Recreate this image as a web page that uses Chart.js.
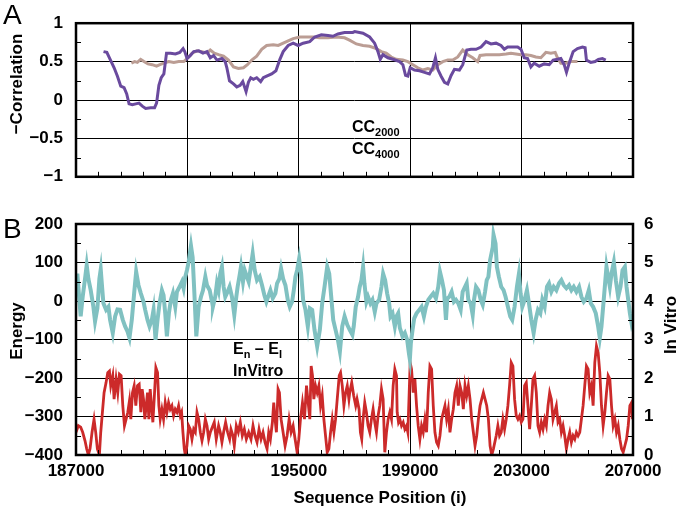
<!DOCTYPE html>
<html><head><meta charset="utf-8">
<script src="https://cdn.jsdelivr.net/npm/chart.js@4/dist/chart.umd.min.js"></script>
<style>
html,body{margin:0;padding:0;background:#fff;}
#wrap{position:relative;width:680px;height:511px;overflow:hidden;font-family:"Liberation Sans",Arial,sans-serif;color:#000;}
.cv{position:absolute;left:0;}
.t{position:absolute;white-space:nowrap;font-weight:bold;}
.leg{position:absolute;white-space:nowrap;font-weight:bold;font-size:16px;line-height:16px;}
.leg sub{font-size:11px;vertical-align:-4px;line-height:0;}
.panel{position:absolute;font-size:28px;line-height:28px;}
.rot{transform:rotate(-90deg);transform-origin:50% 50%;text-align:center;}
</style></head>
<body><div id="wrap">
<canvas id="ca" class="cv" width="680" height="200" style="top:0"></canvas>
<canvas id="cb" class="cv" width="680" height="311" style="top:200px"></canvas>
<div class="panel" style="left:3px;top:1px">A</div>
<div class="panel" style="left:3px;top:215px">B</div>
<div class="t rot" style="font-size:17px;width:140px;left:-53px;top:74px;line-height:20px">−Correlation</div>
<div class="t rot" style="font-size:17px;width:100px;left:-33px;top:321px;line-height:20px">Energy</div>
<div class="t rot" style="font-size:17px;width:100px;left:621px;top:315px;line-height:20px">In Vitro</div>
<div class="t" style="font-size:17px;width:300px;left:230px;top:488px;line-height:20px;text-align:center">Sequence Position (i)</div>
<div class="leg" style="left:352px;top:119px">CC<sub>2000</sub></div>
<div class="leg" style="left:352px;top:141px">CC<sub>4000</sub></div>
<div class="leg" style="left:233px;top:341px">E<sub>n</sub> – E<sub>I</sub></div>
<div class="leg" style="left:233px;top:363px">InVitro</div>
</div>
<script>
// ---------- axis ticks ----------
const xTicks = [187000, 191000, 195000, 199000, 203000, 207000];
const corrTicks = [-1, -0.5, 0, 0.5, 1];
const energyTicks = [-400, -300, -200, -100, 0, 100, 200];
const vitroTicks = [0, 1, 2, 3, 4, 5, 6];

// ---------- CC2000 (purple) ----------
const cc2000X = [187988,188107,188226,188369,188488,188607,188726,188821,188905,189024,189143,189262,189381,189500,189679,189821,189893,189976,190060,190155,190250,190393,190571,190726,190845,190905,190988,191107,191226,191405,191560,191702,191821,191940,192060,192238,192357,192417,192512,192655,192774,192893,192988,193107,193190,193274,193369,193488,193631,193726,193845,194024,194179,194321,194440,194619,194798,194976,195155,195393,195571,195810,196048,196226,196405,196643,196940,
197007,197305,197543,197722,197842,197925,198021,198200,198379,198618,198737,198833,198916,199000,199155,199334,199513,199692,199812,199907,199991,200110,200230,200349,200469,200588,200767,200887,201030,201185,201364,201543,201722,201901,202081,202260,202379,202499,202678,202857,202976,203095,203215,203334,203454,203633,203812,203991,204134,204289,204409,204528,204612,204708,204851,205006,205185,205281,205328,205484,205639,205758,205902,206021];
const cc2000Y = [0.63,0.62,0.53,0.42,0.31,0.18,0.16,0.08,-0.05,-0.06,-0.05,-0.04,-0.08,-0.11,-0.10,-0.10,-0.04,0.19,0.29,0.34,0.61,0.61,0.60,0.62,0.67,0.63,0.54,0.58,0.63,0.64,0.61,0.63,0.55,0.58,0.52,0.54,0.50,0.42,0.25,0.21,0.17,0.19,0.24,0.11,0.23,0.29,0.27,0.29,0.24,0.29,0.31,0.34,0.38,0.53,0.63,0.71,0.74,0.71,0.74,0.76,0.82,0.85,0.84,0.83,0.86,0.88,0.88,
0.89,0.87,0.82,0.74,0.63,0.53,0.59,0.55,0.53,0.50,0.46,0.32,0.31,0.42,0.39,0.38,0.36,0.34,0.42,0.55,0.40,0.31,0.23,0.21,0.32,0.40,0.39,0.46,0.65,0.66,0.66,0.69,0.76,0.73,0.74,0.71,0.66,0.69,0.69,0.69,0.66,0.55,0.54,0.43,0.48,0.44,0.47,0.46,0.52,0.53,0.54,0.46,0.36,0.48,0.63,0.67,0.69,0.68,0.52,0.49,0.50,0.53,0.54,0.52];

// ---------- CC4000 (tan) ----------
const cc4000X = [188988,189107,189202,189321,189440,189583,189738,189893,190012,190155,190333,190512,190690,190869,191048,191167,191345,191524,191702,191821,191964,192119,192298,192476,192655,192833,193012,193155,193310,193488,193667,193845,194083,194262,194440,194619,194798,195036,195274,195512,195750,196048,196345,196643,196821,
197066,197305,197543,197782,197961,198140,198319,198498,198737,198916,199095,199275,199454,199633,199812,199991,200170,200349,200528,200708,200887,201066,201245,201424,201507,201722,201961,202200,202439,202618,202797,202976,203155,203334,203513,203692,203872,204051,204206,204289,204409,204588,204767,205006];
const cc4000Y = [0.48,0.50,0.49,0.53,0.50,0.47,0.46,0.44,0.46,0.48,0.50,0.49,0.50,0.50,0.56,0.61,0.64,0.63,0.61,0.65,0.61,0.59,0.57,0.52,0.43,0.41,0.42,0.46,0.52,0.57,0.66,0.71,0.72,0.71,0.74,0.77,0.80,0.82,0.82,0.82,0.81,0.81,0.82,0.81,0.78,
0.73,0.71,0.70,0.67,0.63,0.61,0.56,0.53,0.52,0.50,0.46,0.42,0.39,0.41,0.39,0.46,0.50,0.52,0.52,0.56,0.65,0.59,0.55,0.50,0.58,0.59,0.59,0.59,0.60,0.61,0.60,0.59,0.59,0.58,0.56,0.55,0.62,0.61,0.62,0.55,0.48,0.48,0.50,0.50];

// ---------- En - EI (teal, left axis) ----------
const energyX = [187000,187048,187120,187168,187240,187324,187384,187444,187528,187624,187684,187768,187840,187888,187936,187984,188080,188164,188224,188320,188404,188488,188584,188680,188764,188848,188920,189004,189088,189160,189244,189328,189424,189484,189568,189640,189724,189784,189856,189928,190000,190084,190144,190204,190264,190336,190408,190480,190564,190624,190720,190804,190864,190924,190984,191044,191128,191188,191248,191320,191404,191488,191560,191644,191704,191800,191884,
191916,192000,192060,192120,192180,192240,192300,192360,192444,192516,192600,192684,192756,192804,192876,192924,192996,193056,193116,193200,193260,193344,193416,193500,193596,193680,193764,193836,193896,193980,194064,194160,194220,194304,194364,194436,194520,194604,194676,194760,194820,194880,194940,195012,195084,195156,195240,195324,195396,195480,195564,195660,195756,195840,195924,196020,196092,196164,196236,196320,196404,196476,196560,196644,196740,
196828,196924,196972,197044,197128,197188,197248,197308,197356,197428,197488,197572,197644,197728,197788,197884,197968,198028,198100,198172,198244,198292,198364,198448,198508,198568,198628,198724,198808,198892,198952,198988,199024,199084,199144,199228,199324,199408,199492,199564,199648,199732,199828,199924,200008,200068,200140,200212,200284,200332,200404,200488,200572,200644,200728,200812,200884,200968,201028,201088,201172,201244,201292,201364,201448,201532,201604,201688,201748,201808,201868,201964,
201992,202064,202112,202184,202268,202352,202424,202508,202592,202664,202748,202832,202904,202964,203024,203108,203192,203264,203348,203432,203504,203588,203672,203744,203828,203912,203984,204068,204152,204248,204344,204428,204512,204608,204704,204788,204872,204968,205064,205148,205232,205328,205412,205484,205568,205664,205748,205808,205868,205928,205988,206048,206108,206168,206228,206312,206384,206468,206552,206624,206708,206768,206828,206888,206948,206984];
const energyY = [37,71,3,-40,11,58,93,58,28,-15,-53,-19,58,82,37,-6,-23,-15,-49,-83,-40,-22,-23,-49,-66,-79,-96,-49,20,76,41,20,-2,-23,-49,-66,-49,-23,-101,-49,-6,28,15,-32,-92,-32,3,20,-15,24,37,50,33,63,80,101,144,114,24,-92,-15,11,28,63,41,28,-2,
-15,11,46,28,71,89,37,11,24,37,11,-36,11,37,67,89,50,80,67,50,80,123,80,54,63,41,15,-2,11,28,7,20,46,58,84,58,41,3,-15,-2,28,63,80,110,71,3,-23,-66,-19,-23,-75,-118,-75,-6,37,89,71,11,-49,-75,-101,-131,-66,-40,-62,
-75,-88,-66,-15,11,37,54,89,46,-2,11,-6,3,-28,-6,3,37,71,54,20,-6,-40,-32,-66,-40,-32,-70,-92,-83,-101,-135,-152,-109,-75,-45,-32,-23,-15,-40,-15,3,11,20,7,37,76,54,28,-49,7,11,24,-2,3,-6,-23,24,37,46,3,-6,-36,3,37,28,3,-10,24,54,63,106,140,
172,149,89,63,37,28,11,-15,-40,-49,-15,37,71,20,-15,3,28,-6,-49,-83,-49,-23,-32,3,-15,37,46,24,37,28,46,54,41,33,41,28,37,24,37,11,-2,7,28,-6,-15,-32,-66,-96,-66,-15,37,89,63,37,71,101,54,11,37,80,89,37,3,-32,-58,-49];

// ---------- InVitro (red, right axis) ----------
const vitroX = [187000,187084,187168,187240,187324,187384,187444,187504,187576,187648,187708,187768,187840,187888,187948,188008,188080,188140,188200,188248,188320,188368,188440,188500,188560,188620,188680,188740,188800,188860,188920,188968,189028,189088,189148,189208,189268,189328,189376,189424,189472,189520,189568,189616,189664,189712,189760,189808,189868,189928,189976,190024,190084,190144,190204,190264,190324,190384,190444,190504,190564,190624,190684,190744,190792,190840,190888,190924,190984,191044,191104,191164,191224,191284,191344,191404,191464,191524,191584,191644,191704,191764,191824,
191964,192036,192120,192180,192240,192300,192372,192444,192516,192564,192636,192684,192756,192828,192900,192972,193044,193116,193200,193284,193356,193428,193500,193572,193644,193716,193788,193860,193920,193980,194052,194100,194148,194196,194256,194304,194364,194436,194508,194580,194652,194724,194796,194868,194940,195000,195060,195132,195204,195276,195324,195396,195444,195492,195540,195600,195660,195720,195780,195840,195900,195960,196020,196080,196140,196200,196260,196320,196380,196452,196500,196560,196620,196680,196740,196800,
196828,196900,196972,197044,197092,197164,197212,197260,197308,197368,197428,197488,197548,197608,197668,197728,197788,197848,197908,197968,198028,198088,198148,198208,198268,198328,198388,198448,198508,198532,198580,198628,198688,198748,198808,198868,198916,198964,199000,199048,199108,199168,199228,199288,199348,199408,199468,199528,199588,199648,199708,199768,199828,199888,199948,200008,200068,200128,200188,200248,200308,200368,200428,200488,200548,200608,200668,200728,200788,200848,200908,200968,201028,201088,201148,201208,201268,201328,201388,201448,201508,201568,201628,201688,201748,201808,201868,201928,201988,
202088,202148,202208,202268,202328,202388,202448,202508,202568,202628,202688,202748,202808,202868,202928,202988,203048,203108,203168,203228,203288,203348,203408,203468,203528,203588,203648,203708,203768,203828,203888,203948,204008,204068,204128,204188,204248,204308,204368,204428,204488,204548,204608,204668,204728,204788,204848,204908,204968,205028,205088,205148,205208,205268,205328,205388,205448,205508,205568,205628,205688,205748,205808,205868,205928,205988,206048,206108,206168,206228,206288,206348,206408,206468,206528,206588,206648,206708,206768,206828,206888,206948,206984];
const vitroY = [0.59,0.76,0.72,0.59,0.37,0.16,0,0.16,0.59,0.93,0.59,0.16,0,0.59,1.11,1.62,1.88,2.14,2.18,1.80,2.06,1.45,1.97,1.62,2.10,2.06,1.28,0.76,0.93,1.11,1.41,0.93,1.62,1.80,1.28,1.80,1.84,1.11,1.71,1.45,0.93,1.28,1.62,0.93,1.71,1.28,0.85,1.45,2.27,2.14,1.28,0.93,1.19,0.93,1.36,1.11,1.36,1.19,1.28,1.02,1.19,1.11,1.28,1.02,1.11,0.59,0.16,0,0.24,0.76,0.67,0.41,0.67,0.59,1.11,0.93,0.59,0.37,0.59,0.93,0.76,0.41,0.59,
0.85,0.41,0.76,0.59,0.33,0.59,0.85,0.59,0.41,0.67,0.50,0.24,0.76,0.59,0.85,0.50,0.67,0.41,0.59,0.41,0.76,0.50,0.33,0.67,0.41,0.59,0.33,0.16,0.59,0.41,0.85,1.36,0.93,0.59,1.71,1.62,0.93,0.59,0.24,0.50,0.93,0.59,0.76,0.41,0.07,0.41,0.93,1.36,0.93,1.80,1.45,0.93,2.31,2.06,1.45,1.80,1.62,1.80,1.28,1.54,0.93,0.50,0.07,0.16,0.59,0.93,0.59,0.93,1.45,2.06,2.14,1.80,1.28,1.62,1.80,1.45,
1.62,1.88,1.54,1.28,1.45,1.19,0.59,0.41,0.93,1.36,1.11,0.76,0.59,0.93,1.19,0.85,0.59,1.02,1.28,1.71,1.45,0.07,0.59,0.93,1.11,0.93,1.80,2.23,2.06,1.11,0.85,0.93,0.76,0.85,0.67,0.76,0.59,1.62,2.40,2.23,1.62,1.97,1.28,0.76,0.41,0.76,0.59,0.93,0.59,1.62,2.31,2.23,1.28,0.59,0.33,0.24,0.50,0.93,1.11,1.28,0.93,1.19,0.59,0.93,1.19,1.62,1.80,1.28,1.80,1.62,1.19,1.80,1.54,1.80,1.45,0.93,0.59,0.24,0.50,0.93,1.28,1.45,1.62,1.45,1.28,0.93,0.24,0,0.16,
0.50,0.76,0.50,0.59,0.93,0.67,0.93,1.28,1.80,2.40,2.31,1.45,1.02,0.93,1.02,0.85,0.93,1.80,1.88,1.28,0.67,1.28,1.97,2.06,1.62,0.76,0.59,0.85,0.67,0.93,0.76,1.28,1.62,1.45,0.93,1.11,1.28,0.85,0.93,0.59,0.76,0.50,0.16,0.41,0.59,0.33,0.50,0.41,0.59,0.50,0.59,0.93,1.28,1.80,2.31,2.23,1.62,1.80,1.28,2.40,2.83,2.66,2.14,1.28,0.76,1.11,1.62,2.06,1.97,1.28,0.76,0.93,0.59,0.76,0.41,0.16,0.07,0.24,0.41,0.76,1.28,1.36,0.93];

function pts(xs, ys){ return xs.map((x,i)=>({x:x, y:ys[i]})); }
const fmt = v => (v < 0 ? '\u2212' + Math.abs(v) : String(v));

Chart.defaults.font.family = '"Liberation Sans", Arial, Helvetica, sans-serif';
Chart.defaults.color = '#000';

// frame + inward minor ticks
const framePlugin = {
  id: 'frame',
  afterDraw(chart, args, o){
    const ctx = chart.ctx, a = chart.chartArea;
    ctx.save();
    ctx.strokeStyle = '#000';
    ctx.lineWidth = 1;
    ctx.beginPath();
    const xs = chart.scales.x;
    for (let v = xs.min; v <= xs.max; v += o.xMinor) {
      if (Math.abs((v - xs.min) % o.xMajor) < 1e-6) continue;
      const p = Math.round(xs.getPixelForValue(v)) + 0.5;
      ctx.moveTo(p, a.bottom); ctx.lineTo(p, a.bottom - 5);
    }
    const yl = chart.scales.y;
    for (let v = yl.min + o.yMinor; v < yl.max; v += 2*o.yMinor) {
      const p = Math.round(yl.getPixelForValue(v)) + 0.5;
      ctx.moveTo(a.left, p); ctx.lineTo(a.left + 5, p);
      if (!o.y2) { ctx.moveTo(a.right, p); ctx.lineTo(a.right - 5, p); }
    }
    if (o.y2) {
      const yr = chart.scales.y2;
      for (let v = yr.min + o.y2Minor; v < yr.max; v += 2*o.y2Minor) {
        const p = Math.round(yr.getPixelForValue(v)) + 0.5;
        ctx.moveTo(a.right, p); ctx.lineTo(a.right - 5, p);
      }
    }
    ctx.stroke();
    ctx.lineWidth = 2.5;
    ctx.strokeRect(a.left, a.top, a.right - a.left, a.bottom - a.top);
    ctx.restore();
  }
};

const xBase = {
  type: 'linear', min: xTicks[0], max: xTicks[xTicks.length-1],
  afterBuildTicks: s => { s.ticks = xTicks.map(v => ({value: v})); },
  grid: { color: '#000', lineWidth: 1, drawTicks: false },
  border: { display: false }
};

new Chart(document.getElementById('ca'), {
  type: 'line',
  data: { datasets: [
    { label: 'CC2000', data: pts(cc2000X, cc2000Y), borderColor: '#6a4a9e', borderWidth: 3, pointRadius: 0, tension: 0 },
    { label: 'CC4000', data: pts(cc4000X, cc4000Y), borderColor: '#bb9d94', borderWidth: 3, pointRadius: 0, tension: 0 }
  ]},
  options: {
    responsive: false, animation: false, events: [],
    layout: { padding: { top: 10, left: 0, right: 47, bottom: 0 } },
    plugins: { legend: { display: false }, tooltip: { enabled: false },
      frame: { xMinor: 800, xMajor: 4000, yMinor: 0.25 } },
    scales: {
      x: Object.assign({}, xBase, { ticks: { display: false }, afterFit: s => { s.height = 16; } }),
      y: { min: -1, max: 1,
        afterBuildTicks: s => { s.ticks = corrTicks.map(v => ({value: v})); },
        ticks: { callback: fmt, font: { size: 17, weight: 'bold' }, padding: 13 },
        grid: { color: '#000', lineWidth: 1, drawTicks: false }, border: { display: false },
        afterFit: s => { s.width = 76; } }
    }
  },
  plugins: [framePlugin]
});

new Chart(document.getElementById('cb'), {
  type: 'line',
  data: { datasets: [
    { label: 'En - EI', data: pts(energyX, energyY), yAxisID: 'y', borderColor: '#80c1c1', borderWidth: 4, pointRadius: 0, tension: 0 },
    { label: 'InVitro', data: pts(vitroX, vitroY), yAxisID: 'y2', borderColor: '#cc2a2a', borderWidth: 2.8, pointRadius: 0, tension: 0 }
  ]},
  options: {
    responsive: false, animation: false, events: [],
    layout: { padding: { top: 24, left: 0, right: 0, bottom: 0 } },
    plugins: { legend: { display: false }, tooltip: { enabled: false },
      frame: { xMinor: 800, xMajor: 4000, yMinor: 50, y2: true, y2Minor: 0.5 } },
    scales: {
      x: Object.assign({}, xBase, {
        ticks: { callback: v => String(v), font: { size: 17, weight: 'bold' }, padding: 6, maxRotation: 0, autoSkip: false },
        afterFit: s => { s.height = 56; } }),
      y: { position: 'left', min: -400, max: 200,
        afterBuildTicks: s => { s.ticks = energyTicks.map(v => ({value: v})); },
        ticks: { callback: fmt, font: { size: 17, weight: 'bold' }, padding: 13 },
        grid: { color: '#000', lineWidth: 1, drawTicks: false }, border: { display: false },
        afterFit: s => { s.width = 76; } },
      y2: { position: 'right', min: 0, max: 6,
        afterBuildTicks: s => { s.ticks = vitroTicks.map(v => ({value: v})); },
        ticks: { callback: fmt, font: { size: 17, weight: 'bold' }, padding: 11 },
        grid: { display: false, drawTicks: false }, border: { display: false },
        afterFit: s => { s.width = 47; } }
    }
  },
  plugins: [framePlugin]
});
</script>
</body></html>
